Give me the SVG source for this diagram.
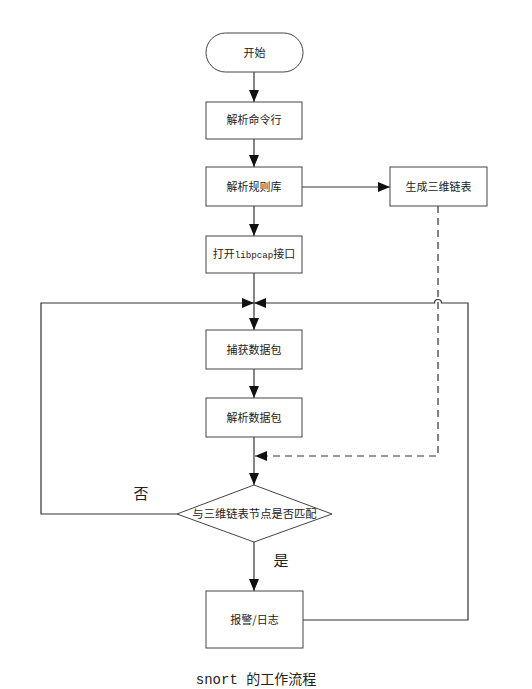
<svg xmlns="http://www.w3.org/2000/svg" width="532" height="689" viewBox="0 0 532 689">
<defs>
<style>
.n{fill:#fff;stroke:#444;stroke-width:1}
.t{font-family:"Noto Sans CJK SC","Liberation Serif",serif;font-size:11px;fill:#222;text-anchor:middle}
.m{font-family:"Liberation Mono",monospace;font-size:9.2px}
.c{fill:none;stroke:#333;stroke-width:1.2}
.d{fill:none;stroke:#333;stroke-width:1.2;stroke-dasharray:7,5}
</style>
<marker id="a" viewBox="0 0 12 10" refX="12" refY="5" markerWidth="12" markerHeight="10" markerUnits="userSpaceOnUse" orient="auto">
<path d="M0,0L12,5L0,10z" fill="#111"/>
</marker>
</defs>
<rect width="532" height="689" fill="#fff"/>
<g id="connectors">
<path class="c" d="M254,72V102" marker-end="url(#a)"/>
<path class="c" d="M254,139V167" marker-end="url(#a)"/>
<path class="c" d="M302,187H390" marker-end="url(#a)"/>
<path class="c" d="M254,206V236" marker-end="url(#a)"/>
<path class="c" d="M254,273V330" marker-end="url(#a)"/>
<path class="c" d="M177,514H41V303H254" marker-end="url(#a)"/>
<path class="c" d="M303,620H468V303H441.5A3.5,3.5 0 0 0 434.5,303H254" marker-end="url(#a)"/>
<path class="d" d="M438,206V456H255" marker-end="url(#a)"/>
<path class="c" d="M254,369V398" marker-end="url(#a)"/>
<path class="c" d="M254,437V485" marker-end="url(#a)"/>
<path class="c" d="M254,542V591" marker-end="url(#a)"/>
</g>
<g id="start">
<rect class="n" x="206" y="33" width="97" height="39" rx="19.5"/>
<text class="t" x="254.5" y="57">开始</text>
</g>
<g id="parse-cmd">
<rect class="n" x="206" y="102" width="96" height="37"/>
<text class="t" x="254" y="124">解析命令行</text>
</g>
<g id="parse-rules">
<rect class="n" x="206" y="167" width="96" height="39"/>
<text class="t" x="254" y="191">解析规则库</text>
</g>
<g id="gen-list">
<rect class="n" x="390" y="167" width="97" height="39"/>
<text class="t" x="438.5" y="191">生成三维链表</text>
</g>
<g id="open-libpcap">
<rect class="n" x="206" y="236" width="96" height="37"/>
<text class="t" x="254" y="258">打开<tspan class="m">libpcap</tspan>接口</text>
</g>
<g id="capture">
<rect class="n" x="206" y="330" width="96" height="39"/>
<text class="t" x="254" y="354">捕获数据包</text>
</g>
<g id="parse-pkt">
<rect class="n" x="206" y="398" width="96" height="39"/>
<text class="t" x="254" y="422">解析数据包</text>
</g>
<g id="match">
<path class="n" d="M254,485L332,514L254,542L177,514z"/>
<text class="t" x="254.5" y="518" style="font-size:11.3px">与三维链表节点是否匹配</text>
</g>
<g id="alert">
<rect class="n" x="206" y="591" width="97" height="57"/>
<text class="t" x="254.5" y="624">报警/日志</text>
</g>
<g id="labels">
<text class="t" x="141" y="499" style="font-size:15px">否</text>
<text class="t" x="281" y="566" style="font-size:15px">是</text>
<text class="t" x="256" y="684" style="font-size:14px"><tspan style="font-family:'Liberation Mono',monospace">snort </tspan>的工作流程</text>
</g>
</svg>
